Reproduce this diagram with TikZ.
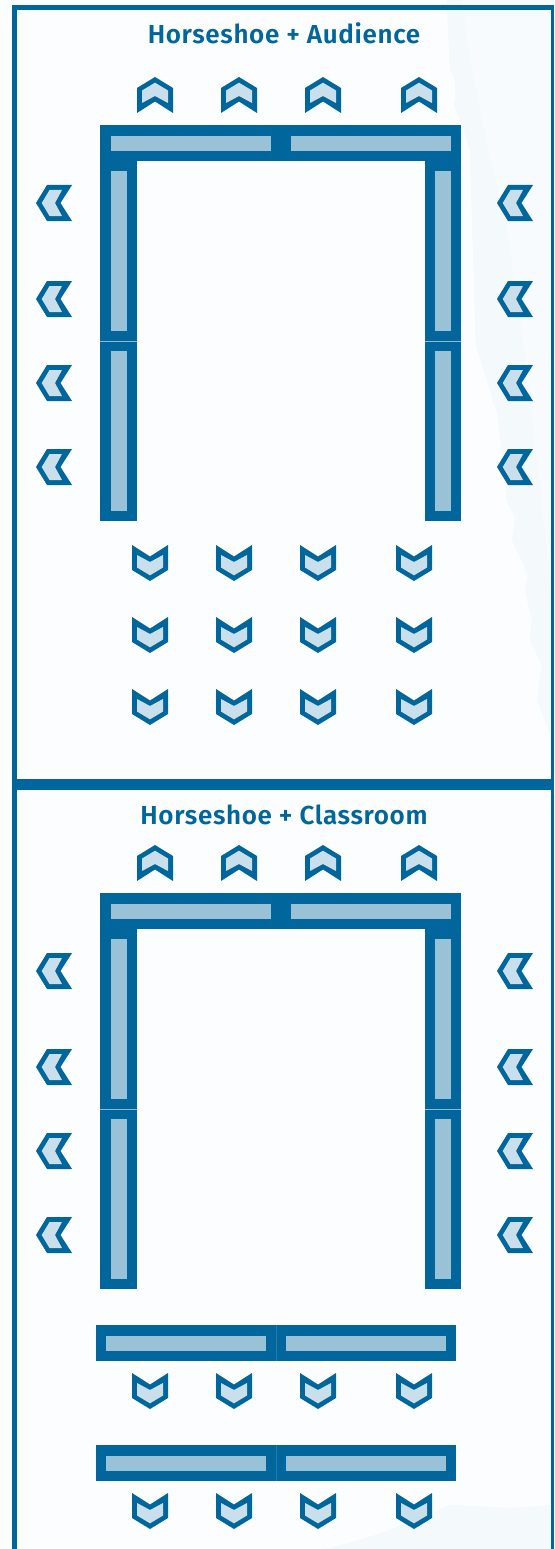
\documentclass[tikz,border=0pt]{standalone}
\usepackage{fontspec}
\newfontfamily\ttlfont[LetterSpace=2.5]{Fira Sans SemiBold}
\definecolor{dk}{HTML}{00669B}
\definecolor{barl}{HTML}{99C2D7}
\definecolor{chevl}{HTML}{C9DFEB}
\definecolor{bgc}{HTML}{FCFDFF}
\definecolor{blotA}{HTML}{F4F9FB}
\definecolor{blotB}{HTML}{F8FBFD}
\definecolor{seam}{HTML}{8FB9D0}
\tikzset{
  x=1pt,y=-1pt,
  frameband/.style={fill=dk,draw=none},
  tabledark/.style={fill=dk,draw=none},
  tablelight/.style={fill=barl,draw=none},
  chevouter/.style={fill=dk,draw=none},
  chevinner/.style={fill=chevl,draw=none},
  titletext/.style={text=dk,font=\ttlfont\fontsize{26}{30}\selectfont,anchor=base,inner sep=0pt},
  seamline/.style={draw=seam,line width=.7pt},
  seamfaint/.style={draw=dk!85!white,line width=.6pt}
}
% #1 x, #2 y, #3 rotation (0 = points up)
\newcommand{\chevron}[3]{%
  \begin{scope}[shift={(#1,#2)},rotate=#3]
    \fill[chevouter] (0,-18) -- (18,-7) -- (18,18) -- (0,6.5) -- (-18,18) -- (-18,-7) -- cycle;
    \fill[chevinner] (0,-12.3) -- (13,-4.5) -- (13,8) -- (0,1) -- (-13,8) -- (-13,-4.5) -- cycle;
  \end{scope}}
% horizontal segment
\newcommand{\hseg}[4]{%
  \fill[tabledark] (#1,#2) rectangle (#3,#4);}
\newcommand{\lbar}[4]{%
  \fill[tablelight] (#1,#2) rectangle (#3,#4);}
% horseshoe with vertical offset
\newcommand{\horseshoe}[1]{%
  \begin{scope}[yshift=-#1pt]
    \hseg{100}{125}{461}{161}
    \hseg{100}{161}{137}{341}
    \hseg{100}{341}{137}{521}
    \hseg{425}{161}{461}{341}
    \hseg{425}{341}{461}{521}
    \draw[seamline] (100,341) -- (137,341);
    \draw[seamline] (425,341) -- (461,341);
    \lbar{111}{135.6}{270.5}{150.6}
    \lbar{291}{135.6}{450.5}{150.6}
    \lbar{111}{171.2}{126.7}{330.5}
    \lbar{111}{351.2}{126.7}{510.5}
    \lbar{435.3}{171.2}{450.5}{330.5}
    \lbar{435.3}{351.2}{450.5}{510.5}
    \foreach \cx in {155,239,323,419} {\chevron{\cx}{95}{0}}
    \foreach \cy in {203,299,383,467} {\chevron{54}{\cy}{90}\chevron{515}{\cy}{90}}
  \end{scope}}
\newcommand{\classrow}[1]{%
  \hseg{96}{#1}{456}{#1+36}
  \draw[seamfaint] (276,#1) -- (276,#1+36);
  \lbar{106.4}{#1+10.6}{265.7}{#1+25.6}
  \lbar{286.2}{#1+10.6}{445.6}{#1+25.6}
  \foreach \cx in {150,234,318,414} {\chevron{\cx}{#1+66}{180}}}
\begin{document}
\begin{tikzpicture}
\useasboundingbox (0,0) rectangle (554,1549);
\fill[bgc] (0,0) rectangle (554,1549);
% pale background washes
\fill[blotB] (447,0) -- (450,70) .. controls (456,76) and (457,92) .. (454,105) -- (462,125) -- (470,150) -- (476,345) -- (497,413) -- (506,480) -- (506,500) -- (515,517) -- (512,540) -- (528,575) -- (525,590) -- (532,620) -- (530,640) -- (542,665) -- (537,700) -- (552,738) -- (554,738) -- (554,0) -- cycle;
\fill[blotA] (447,0) -- (450,70) .. controls (456,76) and (457,92) .. (454,105) -- (462,125) -- (470,150) -- (476,345) -- (497,413) -- (506,480) -- (506,500) -- (515,517) -- (512,540) -- (528,575) -- (525,590) -- (532,620) -- (530,640) -- (542,665) -- (537,700) -- (552,738) -- (554,738) -- (554,640) -- (548,560) -- (530,400) -- (520,320) -- (505,220) -- (490,160) -- (470,60) -- (462,0) -- cycle;
\fill[blotA] (325,1549) .. controls (360,1540) and (385,1533) .. (400,1525) -- (450,1505) -- (475,1506) -- (510,1508) -- (554,1505) -- (554,1549) -- cycle;
% frame
\fill[frameband] (12,5) rectangle (554,10);
\fill[frameband] (12,5) rectangle (17,1549);
\fill[frameband] (551,5) rectangle (554,1549);
\fill[frameband] (12,779.3) rectangle (554,790.3);
% titles
\node[titletext] (title1) at (284,43.5) {Horseshoe + Audience};
\node[titletext] (title2) at (284,824.5) {Horseshoe + Classroom};
% section one
\horseshoe{0}
\foreach \cy in {563,635,707}
  \foreach \cx in {150,234,318,414} {\chevron{\cx}{\cy}{180}}
% section two
\horseshoe{768}
\classrow{1325}
\classrow{1445}
\end{tikzpicture}
\end{document}
